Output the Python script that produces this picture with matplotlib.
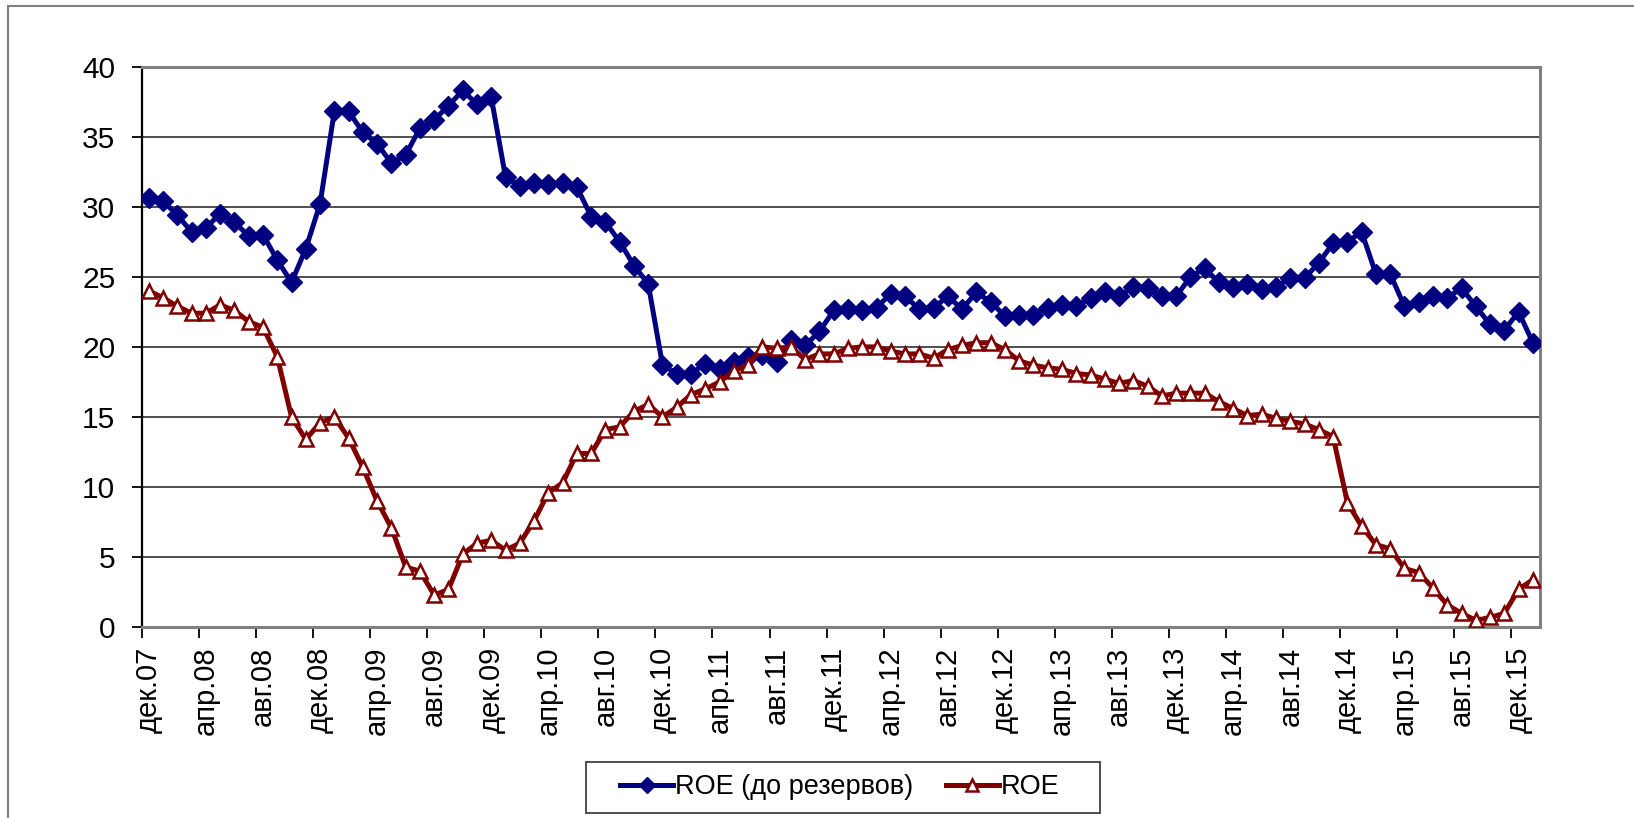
import matplotlib
matplotlib.use("Agg")
import matplotlib.pyplot as plt
from matplotlib.patches import Rectangle

plt.rcParams['font.family'] = ['Liberation Sans', 'DejaVu Sans']

# подписи оси X (каждый 4-й месяц, дек.07 - дек.15), всего 98 месяцев до янв.16
tick_labels = ['дек.07', 'апр.08', 'авг.08', 'дек.08', 'апр.09', 'авг.09', 'дек.09',
               'апр.10', 'авг.10', 'дек.10', 'апр.11', 'авг.11', 'дек.11',
               'апр.12', 'авг.12', 'дек.12', 'апр.13', 'авг.13', 'дек.13',
               'апр.14', 'авг.14', 'дек.14', 'апр.15', 'авг.15', 'дек.15']

# ROE до резервов, %
roe_pre = [30.6, 30.4, 29.4, 28.2, 28.5, 29.5, 28.9, 27.9, 28.0, 26.2,
           24.6, 27.0, 30.2, 36.8, 36.8, 35.3, 34.5, 33.1, 33.7, 35.6,
           36.2, 37.2, 38.3, 37.3, 37.8, 32.1, 31.5, 31.7, 31.6, 31.7,
           31.4, 29.3, 28.9, 27.5, 25.8, 24.5, 18.7, 18.1, 18.1, 18.8,
           18.4, 18.9, 19.3, 19.4, 18.9, 20.5, 20.1, 21.1, 22.6, 22.7,
           22.6, 22.8, 23.8, 23.6, 22.7, 22.8, 23.6, 22.7, 23.9, 23.2,
           22.2, 22.3, 22.3, 22.8, 23.0, 22.9, 23.5, 23.9, 23.6, 24.3,
           24.2, 23.6, 23.6, 25.0, 25.6, 24.6, 24.3, 24.5, 24.1, 24.3,
           24.9, 24.9, 26.0, 27.4, 27.5, 28.2, 25.2, 25.2, 22.9, 23.2,
           23.6, 23.5, 24.2, 22.9, 21.6, 21.2, 22.5, 20.3]

# ROE, %
roe = [24.0, 23.5, 22.9, 22.4, 22.4, 23.0, 22.6, 21.8, 21.4, 19.3,
       15.0, 13.4, 14.6, 15.0, 13.5, 11.4, 9.0, 7.1, 4.3, 4.0,
       2.3, 2.7, 5.2, 6.0, 6.2, 5.5, 6.0, 7.6, 9.6, 10.3,
       12.4, 12.4, 14.1, 14.3, 15.4, 15.9, 15.0, 15.7, 16.6, 17.0,
       17.5, 18.3, 18.7, 20.0, 19.9, 20.0, 19.1, 19.5, 19.5, 19.9,
       20.0, 20.0, 19.7, 19.5, 19.5, 19.2, 19.8, 20.1, 20.3, 20.3,
       19.8, 19.0, 18.7, 18.5, 18.4, 18.1, 18.0, 17.7, 17.4, 17.6,
       17.2, 16.5, 16.7, 16.7, 16.7, 16.1, 15.6, 15.1, 15.2, 14.9,
       14.7, 14.5, 14.1, 13.6, 8.9, 7.2, 5.9, 5.6, 4.2, 3.9,
       2.8, 1.6, 1.0, 0.5, 0.7, 1.0, 2.7, 3.4]

x = list(range(len(roe_pre)))

fig = plt.figure(figsize=(16.34, 8.18), dpi=100)
ax = fig.add_axes([141.7 / 1634, 1 - 627.3 / 818, (1540 - 141.7) / 1634, (627.3 - 66.5) / 818])

# линии
ax.plot(x, roe_pre, color='#000080', lw=3.6, marker='D', ms=10,
        mfc='#000080', mec='#000080', label='ROE (до резервов)', zorder=3)
ax.plot(x, roe, color='#800000', lw=3.6, marker='^', ms=10.5,
        mfc='white', mec='#800000', mew=1.8, label='ROE', zorder=4)

# оси
ax.set_xlim(-0.5, len(x) - 0.5)
ax.set_ylim(0, 40)
ax.set_yticks(range(0, 41, 5))
ax.yaxis.grid(True, color='#303030', lw=1.2)
ax.set_axisbelow(True)

ax.set_xticks(range(0, len(x), 4))
ax.set_xticklabels(tick_labels, rotation=90, fontsize=21)
ax.set_xticks([i - 0.5 for i in range(0, len(x), 4)], minor=True)
ax.tick_params(axis='x', which='major', length=0, pad=14)
ax.tick_params(axis='x', which='minor', length=8, width=1.3, direction='out', color='black')
ax.tick_params(axis='y', length=7, width=1.3, direction='out', labelsize=21.5, pad=12)

for s in ['top', 'right']:
    ax.spines[s].set_color('#808080')
    ax.spines[s].set_linewidth(2.2)
ax.spines['left'].set_color('black')
ax.spines['left'].set_linewidth(1.6)
ax.spines['bottom'].set_color('#808080')
ax.spines['bottom'].set_linewidth(2.2)

# легенда (рамка рисуется отдельно)
fig.legend(loc='center', bbox_to_anchor=(840 / 1634, 1 - 787.5 / 818), ncol=2,
           fontsize=19.5, frameon=False, borderpad=0,
           handlelength=1.95, handletextpad=0.08, columnspacing=1.2,
           markerscale=0.85)
fig.patches.append(Rectangle((586 / 1634, 1 - 813 / 818), 514 / 1634, 51 / 818,
                             transform=fig.transFigure, fill=False,
                             edgecolor='#404040', lw=1.3))

# рамка области диаграммы
fig.patches.append(Rectangle((8 / 1634, -0.1), 1.2, 0.1 + 1 - 6 / 818, transform=fig.transFigure,
                             fill=False, edgecolor='#808080', lw=1.5))

fig.savefig('out.png', dpi=100, facecolor='white')
